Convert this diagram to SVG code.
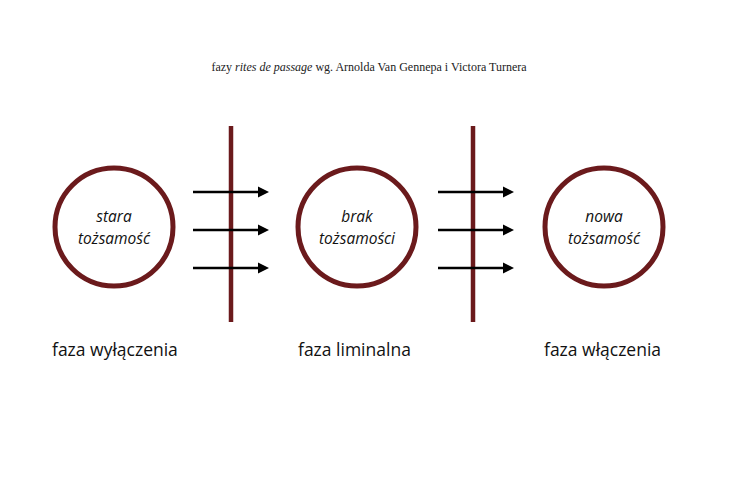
<svg xmlns="http://www.w3.org/2000/svg" width="730" height="480" viewBox="0 0 730 480">
<defs>
<style>
.ring{fill:none;stroke:#6b1a1c;stroke-width:5}
.bar{stroke:#6b1a1c;stroke-width:4.5}
.arr{stroke:#000;stroke-width:2.5;fill:none}
.in{font-family:"Open Sans","DejaVu Sans",sans-serif;font-style:italic;font-size:15.5px;fill:#111;text-anchor:middle}
.lab{font-family:"Open Sans","DejaVu Sans",sans-serif;font-size:17.5px;fill:#111}
.title{font-family:"Liberation Serif",serif;font-size:12px;fill:#222;text-anchor:middle}
</style>
<marker id="ah" viewBox="0 0 10 10" refX="0" refY="5" markerWidth="4.4" markerHeight="6.6" markerUnits="strokeWidth" orient="auto"><path d="M0,0 L10,5 L0,10 z" fill="#000"/></marker>
</defs>
<rect width="730" height="480" fill="#fff"/>
<text class="title" x="369" y="71">fazy <tspan font-style="italic">rites de passage</tspan> wg. Arnolda Van Gennepa i Victora Turnera</text>
<g id="connectors">
<line class="bar" x1="231" y1="126" x2="231" y2="322"/>
<line class="bar" x1="473" y1="126" x2="473" y2="322"/>
<line class="arr" x1="193" y1="192" x2="258" y2="192" marker-end="url(#ah)"/>
<line class="arr" x1="193" y1="230" x2="258" y2="230" marker-end="url(#ah)"/>
<line class="arr" x1="193" y1="268" x2="258" y2="268" marker-end="url(#ah)"/>
<line class="arr" x1="438" y1="192" x2="503" y2="192" marker-end="url(#ah)"/>
<line class="arr" x1="438" y1="230" x2="503" y2="230" marker-end="url(#ah)"/>
<line class="arr" x1="438" y1="268" x2="503" y2="268" marker-end="url(#ah)"/>
</g>
<g id="node-stara">
<circle class="ring" cx="114" cy="227" r="59"/>
<text class="in" x="114" y="222">stara</text>
<text class="in" x="114" y="244">tożsamość</text>
</g>
<g id="node-brak">
<circle class="ring" cx="357" cy="227" r="59"/>
<text class="in" x="357" y="222">brak</text>
<text class="in" x="357" y="244">tożsamości</text>
</g>
<g id="node-nowa">
<circle class="ring" cx="604" cy="227" r="59"/>
<text class="in" x="604" y="222">nowa</text>
<text class="in" x="604" y="244">tożsamość</text>
</g>
<g id="label-1"><text class="lab" x="52" y="356">faza wyłączenia</text></g>
<g id="label-2"><text class="lab" x="298" y="356">faza liminalna</text></g>
<g id="label-3"><text class="lab" x="544" y="356">faza włączenia</text></g>
</svg>
